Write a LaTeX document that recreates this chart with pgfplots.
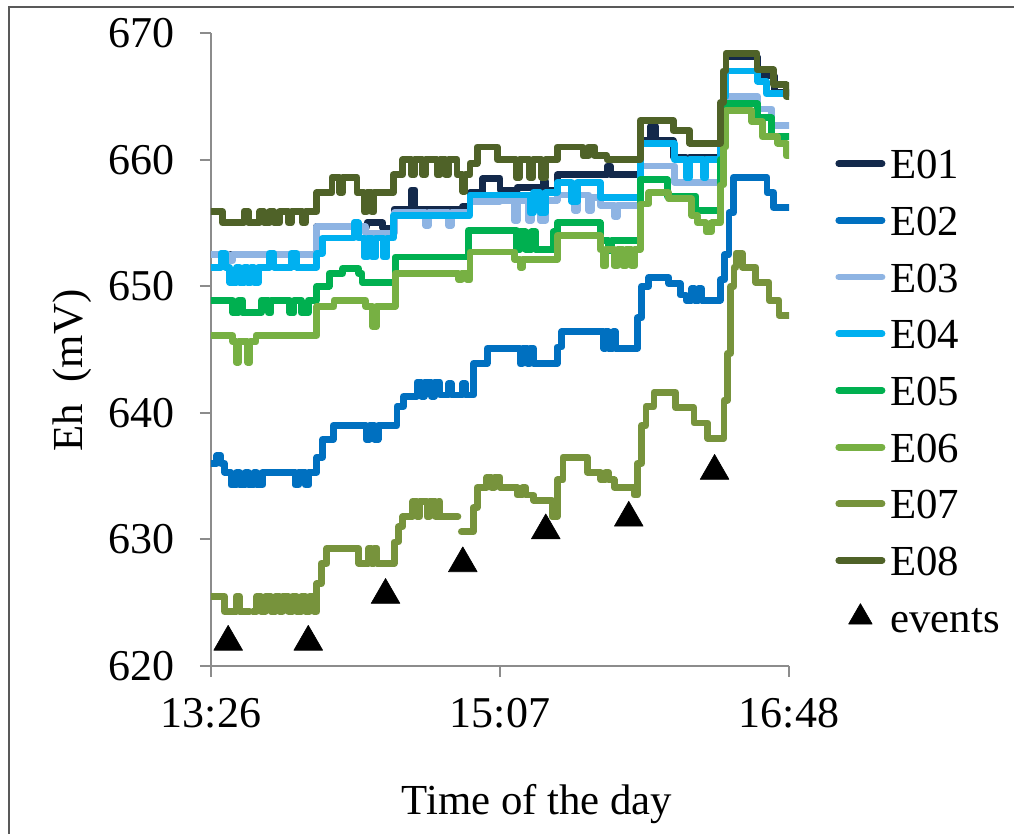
\documentclass[border=0pt]{standalone}
\usepackage{pgfplots}
\pgfplotsset{compat=1.18}
\usepackage{fontspec}
\setmainfont{Liberation Serif}
\definecolor{cE01}{HTML}{13294B}
\definecolor{cE02}{HTML}{0070C0}
\definecolor{cE03}{HTML}{8EB4E3}
\definecolor{cE04}{HTML}{00B0F0}
\definecolor{cE05}{HTML}{00B050}
\definecolor{cE06}{HTML}{77B043}
\definecolor{cE07}{HTML}{77933C}
\definecolor{cE08}{HTML}{4F6228}
\definecolor{axgray}{HTML}{8C8C8C}
\newcommand{\bigfont}{\fontsize{21.4}{25}\selectfont}
\newcommand{\tickfont}{\fontsize{22}{26}\selectfont}
\pgfplotsset{
  lineleg/.style={legend image code/.code={\draw[##1] plot coordinates {(1.7pt,0pt) (23.3pt,0pt)};}},
  eventleg/.style={legend image code/.code={\draw[##1,mark size=6.8pt] plot coordinates {(12.5pt,0pt)};}},
}
\begin{document}
\begin{tikzpicture}
\path[use as bounding box] (0,0) rectangle (507pt,417pt);
\draw[color=black!65, line width=0.75pt] (4.5pt,0pt) -- (4.5pt,413.5pt) -- (507pt,413.5pt);
\begin{axis}[
  scale only axis, width=289pt, height=316.5pt,
  at={(105.5pt,84pt)}, anchor=south west,
  xmin=806, xmax=1008, ymin=620, ymax=670,
  axis x line*=bottom, axis y line*=left,
  axis line style={color=axgray, line width=1pt},
  tick align=outside, major tick length=5.5pt,
  tick style={color=axgray, line width=1pt},
  xtick={806,907,1008}, xticklabels={13:26,15:07,16:48},
  ytick={620,630,640,650,660,670},
  /pgf/number format/assume math mode=true,
  tick label style={font=\tickfont},
  yticklabel style={inner sep=0pt, xshift=-12.5pt},
  xticklabel style={anchor=base, inner sep=0pt, yshift=-25.5pt},
  xlabel={Time of the day},
  xlabel style={at={(axis description cs:0.564,-0.235)}, anchor=base, font=\bigfont},
  ylabel={Eh\ \ (mV)},
  ylabel style={at={(axis description cs:-0.2215,0.467)}, anchor=base, font=\bigfont},
  legend style={at={(axis description cs:1.0796,0.818)}, anchor=north west, draw=none, fill=none,
    inner sep=0pt, row sep=13.35pt, column sep=2.5pt, font=\bigfont,
    nodes={inner sep=0pt, text height=15pt, text depth=0pt}},
  legend cell align=left,
  lineleg,
  every axis plot/.append style={line width=3.4pt, line join=round, line cap=round, const plot, mark=none},
  unbounded coords=jump,
]
\addplot[cE01] table {
806 652.5
843 654.7
860.5 655.0
866 654.6
870 656.1
876 657.6
877.3 656.1
894 656.3
896.5 657.4
901 658.5
907 657.6
913 657.8
922 658.3
923 657.6
927 658.8
944.5 659.5
945.5 658.8
956 661.5
959.5 662.6
961.5 661.5
967.5 660.2
972 659.4
973.3 660.2
984 664
985 666
986 668.1
997 666.6
1003 665.3
1008 665.3
};
\addlegendentry{E01}
\addplot[cE02] table {
806 636.0
808 636.6
809.5 636.0
810.7 635.3
813 634.3
815 635.3
816 634.3
818 635.3
819 634.3
821 635.3
822 634.3
824 635.3
835.5 634.3
836.6 635.3
839 634.3
840.2 635.3
843 636.5
845 637.9
848.7 639.0
860.2 637.9
861.4 639.0
863.2 637.9
864.4 639.0
871 640.5
873.3 641.3
878 642.4
879.5 641.3
880.5 642.4
883 641.3
884 642.4
886 641.4
889 642.3
890 641.4
894 642.3
895 641.4
897.8 643.9
902.5 645.1
914 643.9
915 645.1
916.5 643.9
917.5 645.1
918.7 643.9
927 645.2
928.6 646.4
943.2 645.1
944 646.4
945 645.1
946.5 646.4
947.3 645.1
955 647.5
956.5 650.0
959 650.7
966 650.2
970 649.3
972 648.9
974 649.8
975 648.9
976.5 649.8
977.5 648.9
984 650.5
985.5 652.5
987 655.8
988.6 658.6
1000.3 657.4
1002.6 656.2
1008 656.2
};
\addlegendentry{E02}
\addplot[cE03] table {
806 652.5
812 652.0
813.5 652.5
843 654.7
860 654.2
870 655.8
881 654.8
882 655.8
889 654.8
890 655.8
896.5 656.7
907 656.8
912 655.2
913 656.8
917 655.2
918 656.8
921 655.2
923 656.8
927 657.2
933 656.0
934 657.2
938 656.0
939 657.0
942 656.4
947 655.5
948 656.4
956 659.5
968 658.2
984 661
985 663
986 665.0
997 664.0
1002 662.7
1008 662.7
};
\addlegendentry{E03}
\addplot[cE04] table {
806 651.5
809.5 652.6
811 651.5
812.5 650.3
815 651.5
816 650.3
817.6 651.5
818.8 650.3
820 651.5
821 650.3
822.6 651.5
826.5 652.6
828 651.5
834 652.6
836 651.5
843 652.6
845 653.8
856 655.0
857.5 653.8
859.7 652.3
860.8 653.8
862.3 652.3
863.5 653.8
866.3 652.3
867.5 653.8
869.7 655.6
896.5 657.2
917.5 655.8
918.7 657.4
921 655.8
923 657.4
927 658.2
932 656.7
934 658.2
942 657.0
956 661.3
968 660.0
972 658.6
973.3 660.0
978 658.6
979 660.0
984 663
985 665
986 667.0
997 666.2
1000 665.2
1008 665.2
};
\addlegendentry{E04}
\addplot[cE05] table {
806 648.9
813.6 647.9
815.6 648.9
817 647.9
823.6 648.9
826 647.9
827 648.9
833.5 647.9
835 648.9
837.5 647.9
840 648.9
843 650.0
847.3 651.0
852 651.4
857.6 651.0
858.8 650.3
870.4 652.3
896 654.4
912.8 652.9
914 654.3
916 652.9
918 654.3
919.5 652.9
925.6 654.3
927 655.0
942 653.6
945 652.8
946 653.6
956 658.4
965.5 657.1
975.5 656.0
984 660
985 662.5
986 664.4
997 663.3
1002 661.8
1008 661.8
};
\addlegendentry{E05}
\addplot[cE06] table {
806 646.1
813.6 645.6
814.8 644.0
815.6 645.6
818.8 644.0
819.6 645.6
821.7 646.1
843 648.4
849 648.9
860 648.4
862.5 646.8
863.7 648.4
870.4 651.0
892.6 650.5
893.5 651.0
895.5 650.5
896.5 652.7
912.2 652.1
914 651.5
915 652.1
927 654.0
942 652.9
943 651.6
944 652.9
947 651.6
948 652.9
950 651.6
951 652.9
953 651.6
954 652.9
956 656.5
959 657.4
966 656.9
974 655.6
976 655.0
979 654.3
981 655.0
984 658
985 661
986 663.9
995 663.0
998.6 661.8
1004 661.3
1007 660.3
1008 660.3
};
\addlegendentry{E06}
\addplot[cE07] table {
806 625.5
810.7 624.3
814.8 625.5
816 624.3
819.5 624.3
819.6 nan
820.6 624.3
822 625.5
823.5 624.3
825 625.5
827 624.3
828.5 625.5
830 624.3
831 625.5
833 624.3
834.5 625.5
836 624.3
837.5 625.5
839 624.3
840.5 625.5
842 624.3
843 626.5
844.5 628.1
846.5 629.3
857.6 628.1
861 629.3
862 628.1
863 629.3
864 628.1
870 629.8
871.5 631.0
873 631.8
876.5 633.0
878 631.8
879 633.0
881.5 631.8
882.5 633.0
884.5 631.8
885.5 633.0
886 631.8
892.3 631.8
892.4 nan
893.5 630.6
897.6 632.5
899 634.1
902.4 634.9
904 634.1
905 634.9
907 634.1
913 633.5
915 634.1
916 633.5
918.7 633.1
925.2 631.8
927 634.7
929 636.5
937.5 635.3
942.2 634.7
944 635.3
945 634.7
946.9 634.1
953.9 633.5
955 636.0
956.5 639.0
958 640.5
960.8 641.6
968.4 640.4
974.8 639.2
979.5 638.0
985.3 641
986.5 644.7
987.6 650.0
988.8 651.5
989.5 652.6
991.7 651.5
996.4 650.3
1001 648.9
1004.5 647.7
1008 647.7
};
\addlegendentry{E07}
\addplot[cE08] table {
806 655.9
810 655.0
817.5 655.9
819 655.0
823 655.9
824.5 655.0
826.5 655.9
828 655.0
830 655.9
833 655.0
834 655.9
838 655.0
839 655.9
842.4 655.9
843 657.4
848.3 658.6
851 657.4
852 658.6
857 657.4
859.5 655.9
860.5 657.4
862 655.9
863 657.4
869.7 658.8
873 660.0
876 658.8
877 660.0
880 658.8
881 660.0
885 658.8
886 660.0
888 658.8
889 660.0
892 658.8
894 657.5
894.8 658.8
896.5 659.7
899 661.0
906 660.0
912.6 658.6
913.8 660.0
917.3 658.6
918.5 660.0
921.5 658.6
923 660.0
927 661.0
936 660.3
938 661.0
940 660.3
944.4 660.0
956 663.1
967.5 662.3
973.3 661.3
984 664.5
985 667
986 668.4
996.8 667.1
1002.6 665.9
1007 665.0
1008 665.0
};
\addlegendentry{E08}
\addplot[only marks, mark=triangle*, mark size=8.3pt, color=black, line width=0.3pt, eventleg] table {
812 621.9
840 621.9
867 625.6
894 628.1
923 630.7
952 631.7
982 635.4
};
\addlegendentry{events}
\end{axis}
\end{tikzpicture}
\end{document}
